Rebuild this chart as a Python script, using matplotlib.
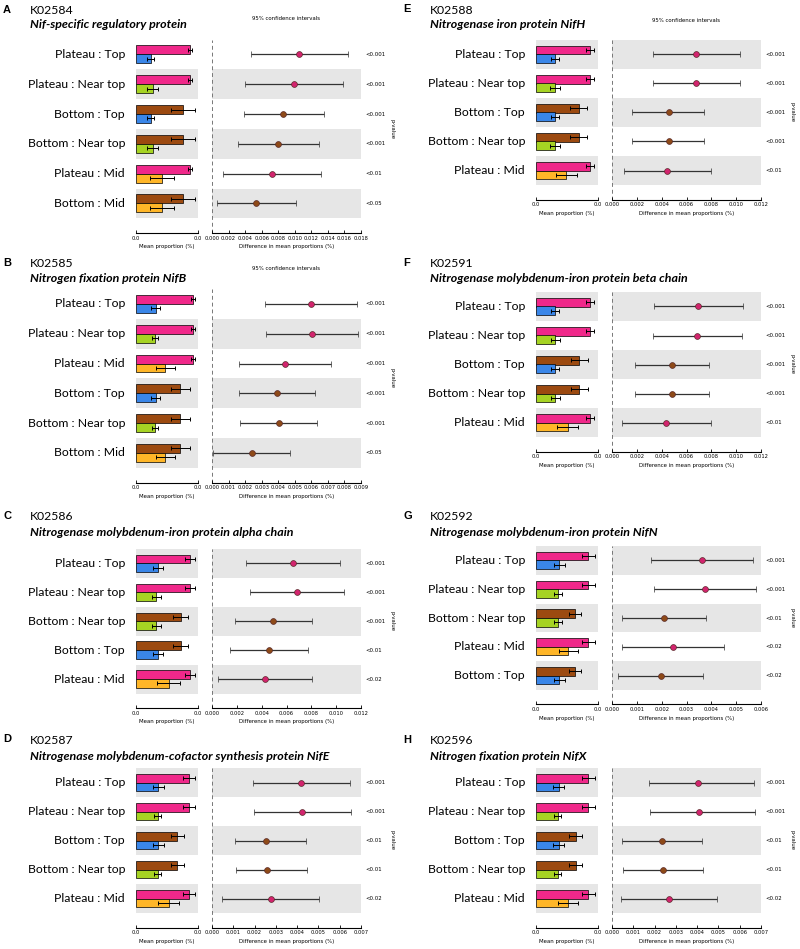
import matplotlib
matplotlib.use("Agg")
import matplotlib.pyplot as plt
import matplotlib.transforms as mtrans
from matplotlib.ticker import FormatStrFormatter
import numpy as np

plt.rcParams['font.family'] = ['Lato', 'DejaVu Sans']

# ---------------- data ----------------
GROUPS = ["Plateau", "Bottom", "Mid", "Near top", "Top"]

A_code = "K02584"
A_name = "Nif-specific regulatory protein"
A_left = ["Plateau", "Plateau", "Bottom", "Bottom", "Plateau", "Bottom"]
A_right = ["Top", "Near top", "Top", "Near top", "Mid", "Mid"]
A_mean = [0.01446, 0.01259, 0.00705, 0.00446, 0.00392]
A_err = [0.00053, 0.00322, 0.00322, 0.00150, 0.00094]
A_diff = [0.01055, 0.00987, 0.00862, 0.00797, 0.00725, 0.00536]
A_lo = [0.00467, 0.00403, 0.00383, 0.00310, 0.00133, 0.00056]
A_hi = [0.01647, 0.01579, 0.01349, 0.01289, 0.01317, 0.01019]
A_p = ["<0.001", "<0.001", "<0.001", "<0.001", "<0.01", "<0.05"]

B_code = "K02585"
B_name = "Nitrogen fixation protein NifB"
B_left = ["Plateau", "Plateau", "Plateau", "Bottom", "Bottom", "Bottom"]
B_right = ["Top", "Near top", "Mid", "Top", "Near top", "Mid"]
B_mean = [0.00908, 0.00708, 0.00465, 0.00301, 0.00312]
B_err = [0.00032, 0.00158, 0.00153, 0.00045, 0.00071]
B_diff = [0.00596, 0.00602, 0.00439, 0.00393, 0.00403, 0.00240]
B_lo = [0.00318, 0.00324, 0.00161, 0.00163, 0.00169, 0.00008]
B_hi = [0.00876, 0.00882, 0.00719, 0.00624, 0.00634, 0.00469]
B_p = ["<0.001", "<0.001", "<0.001", "<0.001", "<0.001", "<0.05"]

C_code = "K02586"
C_name = "Nitrogenase molybdenum-iron protein alpha chain"
C_left = ["Plateau", "Plateau", "Bottom", "Bottom", "Plateau"]
C_right = ["Top", "Near top", "Near top", "Top", "Mid"]
C_mean = [0.01095, 0.00907, 0.00664, 0.00410, 0.00443]
C_err = [0.00100, 0.00148, 0.00232, 0.00090, 0.00104]
C_diff = [0.00652, 0.00685, 0.00494, 0.00462, 0.00430]
C_lo = [0.00274, 0.00309, 0.00183, 0.00148, 0.00051]
C_hi = [0.01028, 0.01060, 0.00808, 0.00776, 0.00805]
C_p = ["<0.001", "<0.001", "<0.001", "<0.01", "<0.02"]

D_code = "K02587"
D_name = "Nitrogenase molybdenum-cofactor synthesis protein NifE"
D_left = ["Plateau", "Plateau", "Bottom", "Bottom", "Plateau"]
D_right = ["Top", "Near top", "Top", "Near top", "Mid"]
D_mean = [0.00722, 0.00559, 0.00442, 0.00293, 0.00302]
D_err = [0.00079, 0.00088, 0.00144, 0.00052, 0.00074]
D_diff = [0.00420, 0.00424, 0.00254, 0.00257, 0.00276]
D_lo = [0.00191, 0.00197, 0.00110, 0.00113, 0.00047]
D_hi = [0.00647, 0.00651, 0.00442, 0.00446, 0.00504]
D_p = ["<0.001", "<0.001", "<0.01", "<0.01", "<0.02"]

E_code = "K02588"
E_name = "Nitrogenase iron protein NifH"
E_left = ["Plateau", "Plateau", "Bottom", "Bottom", "Plateau"]
E_right = ["Top", "Near top", "Top", "Near top", "Mid"]
E_mean = [0.01046, 0.00828, 0.00584, 0.00366, 0.00366]
E_err = [0.00084, 0.00167, 0.00205, 0.00090, 0.00077]
E_diff = [0.00679, 0.00679, 0.00456, 0.00456, 0.00446]
E_lo = [0.00330, 0.00330, 0.00164, 0.00164, 0.00094]
E_hi = [0.01031, 0.01031, 0.00744, 0.00744, 0.00800]
E_p = ["<0.001", "<0.001", "<0.001", "<0.001", "<0.01"]

F_code = "K02591"
F_name = "Nitrogenase molybdenum-iron protein beta chain"
F_left = ["Plateau", "Plateau", "Bottom", "Bottom", "Plateau"]
F_right = ["Top", "Near top", "Top", "Near top", "Mid"]
F_mean = [0.01069, 0.00858, 0.00623, 0.00380, 0.00374]
F_err = [0.00085, 0.00167, 0.00213, 0.00092, 0.00079]
F_diff = [0.00695, 0.00687, 0.00483, 0.00480, 0.00435]
F_lo = [0.00338, 0.00333, 0.00188, 0.00183, 0.00078]
F_hi = [0.01052, 0.01047, 0.00784, 0.00779, 0.00797]
F_p = ["<0.001", "<0.001", "<0.001", "<0.001", "<0.01"]

G_code = "K02592"
G_name = "Nitrogenase molybdenum-iron protein NifN"
G_left = ["Plateau", "Plateau", "Bottom", "Plateau", "Bottom"]
G_right = ["Top", "Near top", "Near top", "Mid", "Top"]
G_mean = [0.00650, 0.00485, 0.00403, 0.00271, 0.00288]
G_err = [0.00078, 0.00070, 0.00123, 0.00047, 0.00070]
G_diff = [0.00362, 0.00376, 0.00209, 0.00247, 0.00197]
G_lo = [0.00156, 0.00170, 0.00039, 0.00040, 0.00026]
G_hi = [0.00569, 0.00581, 0.00380, 0.00452, 0.00368]
G_p = ["<0.001", "<0.001", "<0.01", "<0.02", "<0.02"]

H_code = "K02596"
H_name = "Nitrogen fixation protein NifX"
H_left = ["Plateau", "Plateau", "Bottom", "Bottom", "Plateau"]
H_right = ["Top", "Near top", "Top", "Near top", "Mid"]
H_mean = [0.00706, 0.00537, 0.00434, 0.00291, 0.00304]
H_err = [0.00087, 0.00087, 0.00136, 0.00049, 0.00074]
H_diff = [0.00402, 0.00407, 0.00233, 0.00238, 0.00266]
H_lo = [0.00175, 0.00180, 0.00045, 0.00050, 0.00041]
H_hi = [0.00669, 0.00673, 0.00423, 0.00428, 0.00492]
H_p = ["<0.001", "<0.001", "<0.01", "<0.01", "<0.02"]

# ---------------- style ----------------
BAR_COLORS = {"Plateau": "#F0288A", "Bottom": "#9C4A10", "Mid": "#FFB628",
              "Near top": "#A6D323", "Top": "#3A86E8"}
DOT_COLORS = {"Plateau": "#D2246E", "Bottom": "#8E4A18"}
SHADE = "#E6E6E6"
TEXT_FAMILY = ['Lato', 'DejaVu Sans']
SMALL_FAMILY = ['DejaVu Sans']

W, H = 800, 949
fig = plt.figure(figsize=(W / 100, H / 100), dpi=100)


def px_axes(x0, y0, w, h):
    return fig.add_axes([x0 / W, 1 - (y0 + h) / H, w / W, h / H])


def fy(y):
    return 1 - y / H


def fx(x):
    return x / W


def draw_panel(letter, code, name, left, right, mean, err, diff, lo, hi, pv,
               ox, top, rh, bar_max, dmax, dstep, ci_y, letter_y, name_y):
    n = len(left)
    h = (n + 0.5) * rh
    axb = px_axes(ox + 136, top, 62, h)
    axd = px_axes(ox + 212, top, 149, h)
    ys = np.arange(n)[::-1]
    for ax in (axb, axd):
        ax.set_ylim(-1, n - 0.5)
        for y in ys:
            if y % 2 == 0:
                ax.axhspan(y - 0.5, y + 0.5, color=SHADE, lw=0, zorder=0)
        for s in ("top", "right", "left"):
            ax.spines[s].set_visible(False)
        ax.spines["bottom"].set_linewidth(0.8)
        ax.set_yticks([])
        ax.tick_params(axis="x", direction="in", length=2.5, width=0.6,
                       labelsize=3.7, pad=2)
        for t in ax.get_xticklabels():
            t.set_family(SMALL_FAMILY)
        ax.patch.set_alpha(0)
    axb.set_xlim(0, bar_max)
    axd.set_xlim(0, dmax)

    gi = {g: i for i, g in enumerate(GROUPS)}
    ekw = dict(ecolor="black", elinewidth=0.7, capsize=1.6, capthick=0.7)
    for y, l, r in zip(ys, left, right):
        axb.barh(y + 0.15, mean[gi[l]], height=0.3, color=BAR_COLORS[l],
                 edgecolor="black", linewidth=0.5, xerr=err[gi[l]],
                 error_kw=ekw, zorder=2)
        axb.barh(y - 0.15, mean[gi[r]], height=0.3, color=BAR_COLORS[r],
                 edgecolor="black", linewidth=0.5, xerr=err[gi[r]],
                 error_kw=ekw, zorder=2)
    axb.set_xticks([0, bar_max])
    axb.xaxis.set_major_formatter(FormatStrFormatter("%.1f"))
    axb.set_xlabel("Mean proportion (%)", fontsize=3.9, labelpad=2.5,
                   family=SMALL_FAMILY)

    axd.axvline(0, color="#777777", ls=(0, (4, 3)), lw=0.7, zorder=1,
                clip_on=False)
    for y, l, d, a, b in zip(ys, left, diff, lo, hi):
        axd.errorbar([d], [y], xerr=[[d - a], [b - d]], fmt="o",
                     color=DOT_COLORS[l], markersize=4.2,
                     markeredgecolor="#5a2a2a", markeredgewidth=0.5,
                     ecolor="#333333", elinewidth=0.9, capsize=2.2,
                     capthick=0.8, zorder=3)
    axd.set_xticks(np.round(np.arange(0, dmax + dstep / 2, dstep), 4))
    axd.xaxis.set_major_formatter(FormatStrFormatter("%.3f"))
    axd.set_xlabel("Difference in mean proportions (%)", fontsize=3.9,
                   labelpad=2.5, family=SMALL_FAMILY)
    for ax in (axb, axd):
        for t in ax.get_xticklabels():
            t.set_family(SMALL_FAMILY)

    tr_b = mtrans.blended_transform_factory(fig.transFigure, axb.transData)
    for y, l, r, p in zip(ys, left, right, pv):
        fig.text(fx(ox + 125), y, f"{l} : {r}", transform=tr_b, ha="right",
                 va="center", fontsize=8.8, family=TEXT_FAMILY)
        fig.text(fx(ox + 365), y, p, transform=tr_b, ha="left",
                 va="center", fontsize=3.9, family=SMALL_FAMILY)
    fig.text(fx(ox + 392), fy(top + n * rh / 2), "p-value", rotation=270,
             ha="center", va="center", fontsize=3.9, family=SMALL_FAMILY)

    fig.text(fx(ox + 3), fy(letter_y), letter, ha="left", va="center",
             fontsize=8, fontweight="bold",
             family=['Liberation Sans', 'DejaVu Sans'])
    fig.text(fx(ox + 30), fy(letter_y + 1), code, ha="left", va="center",
             fontsize=8.8, family=TEXT_FAMILY)
    fig.text(fx(ox + 30), fy(name_y), name, ha="left", va="center",
             fontsize=8.9, fontweight="bold", fontstyle="italic",
             family=TEXT_FAMILY)
    if ci_y is not None:
        fig.text(fx(ox + 286.5), fy(ci_y), "95% confidence intervals",
                 ha="center", va="center", fontsize=3.9, family=SMALL_FAMILY)


PANELS = [
    ("A", A_code, A_name, A_left, A_right, A_mean, A_err, A_diff, A_lo, A_hi, A_p,
     0, 39.5, 29.8, 0.0167, 0.018, 0.002, 19, 10, 25),
    ("B", B_code, B_name, B_left, B_right, B_mean, B_err, B_diff, B_lo, B_hi, B_p,
     0, 289, 29.8, 0.00987, 0.009, 0.001, 269, 263, 279),
    ("C", C_code, C_name, C_left, C_right, C_mean, C_err, C_diff, C_lo, C_hi, C_p,
     0, 549, 28.9, 0.01256, 0.012, 0.002, None, 516, 533),
    ("D", D_code, D_name, D_left, D_right, D_mean, D_err, D_diff, D_lo, D_hi, D_p,
     0, 768, 29, 0.00843, 0.007, 0.001, None, 739, 756),
    ("E", E_code, E_name, E_left, E_right, E_mean, E_err, E_diff, E_lo, E_hi, E_p,
     400, 40, 29, 0.0120, 0.012, 0.002, 20, 9, 25),
    ("F", F_code, F_name, F_left, F_right, F_mean, F_err, F_diff, F_lo, F_hi, F_p,
     400, 292, 29, 0.01226, 0.012, 0.002, None, 263, 279),
    ("G", G_code, G_name, G_left, G_right, G_mean, G_err, G_diff, G_lo, G_hi, G_p,
     400, 546, 28.8, 0.00769, 0.006, 0.001, None, 516, 533),
    ("H", H_code, H_name, H_left, H_right, H_mean, H_err, H_diff, H_lo, H_hi, H_p,
     400, 768, 29, 0.00836, 0.007, 0.001, None, 740, 756),
]

for args in PANELS:
    draw_panel(*args)

fig.savefig("out.png", dpi=100, facecolor="white")
